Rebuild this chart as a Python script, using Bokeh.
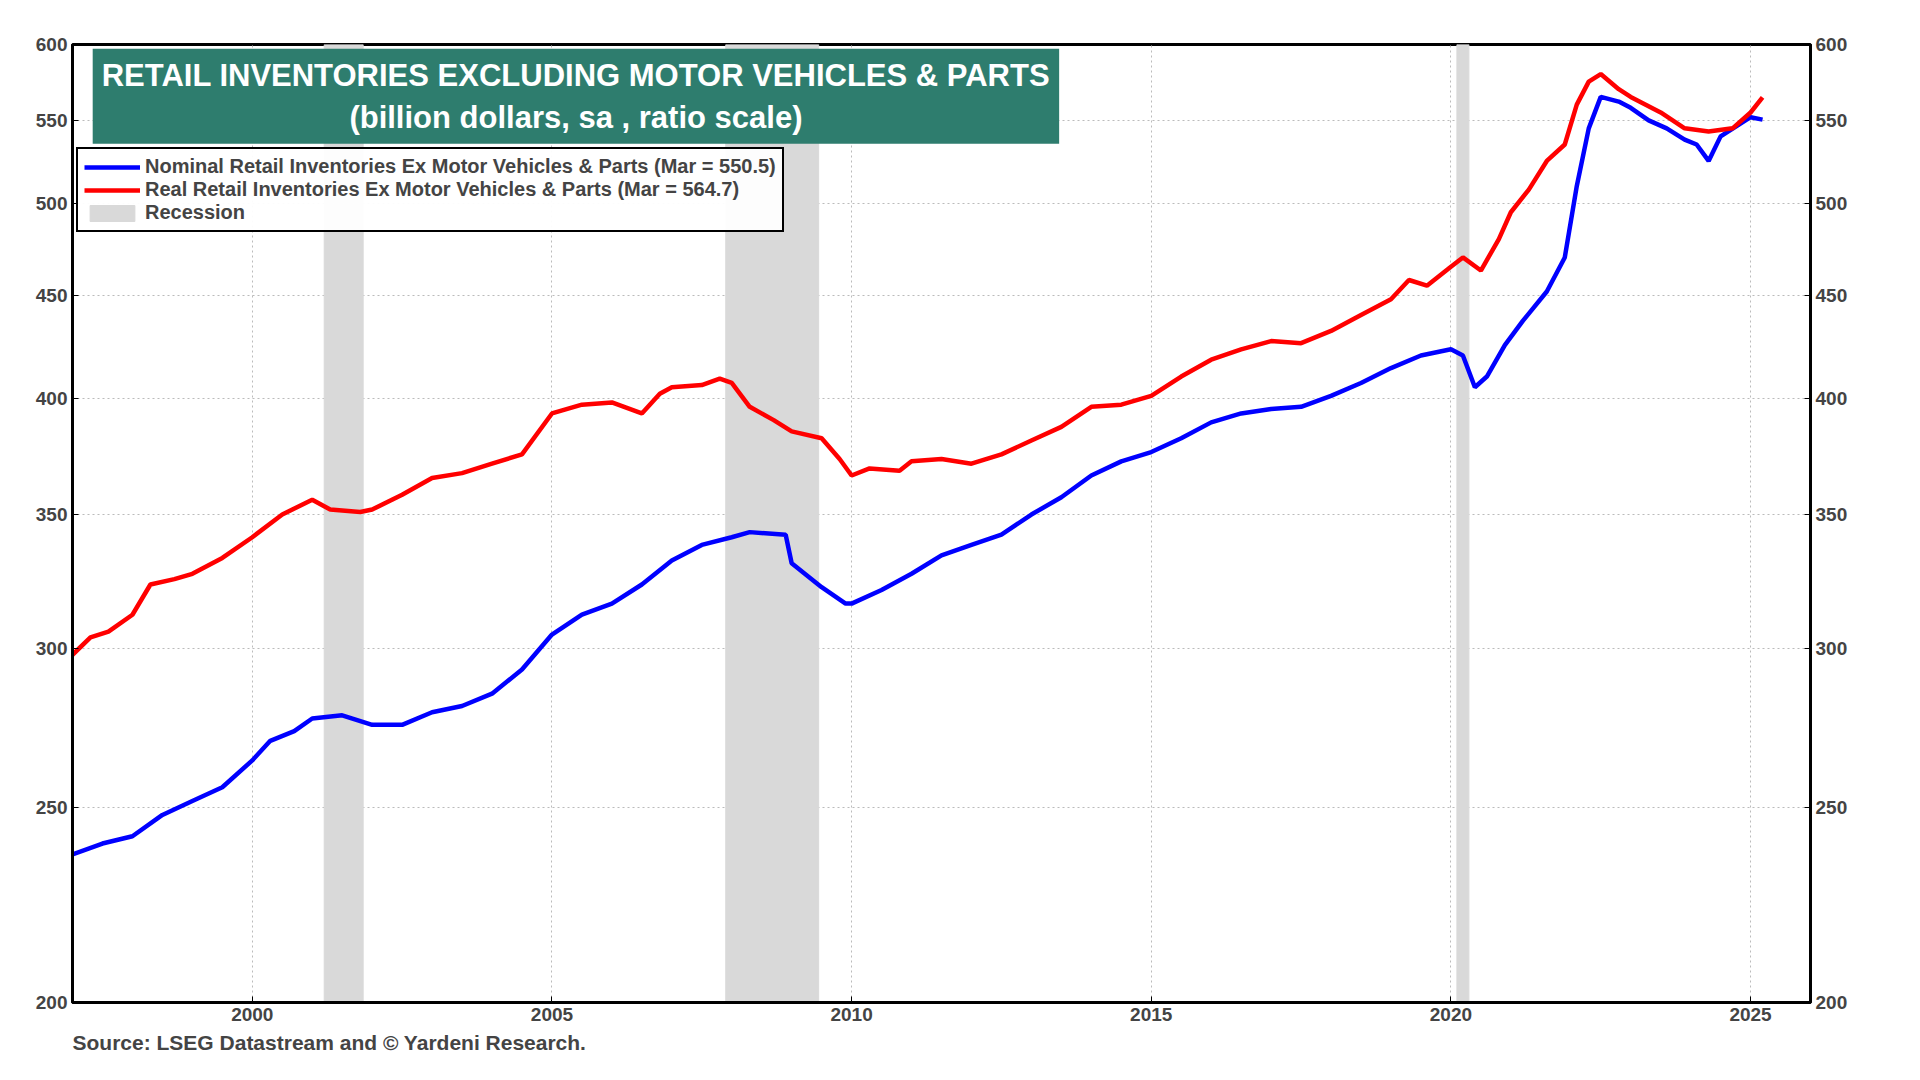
from bokeh.plotting import figure
from bokeh.models import LogAxis, FixedTicker, Label, Title, Range1d
from bokeh.embed import file_html
from bokeh.resources import INLINE

nom_x = [1997.0,1997.5,1998.0,1998.5,1999.0,1999.5,2000.0,2000.3,2000.7,2001.0,2001.5,2002.0,2002.5,2003.0,2003.5,2004.0,2004.5,2005.0,2005.5,2006.0,2006.5,2007.0,2007.5,2008.0,2008.3,2008.9,2009.0,2009.5,2009.9,2010.0,2010.5,2011.0,2011.5,2012.0,2012.5,2013.0,2013.5,2014.0,2014.5,2015.0,2015.5,2016.0,2016.5,2017.0,2017.5,2018.0,2018.5,2019.0,2019.5,2020.0,2020.2,2020.4,2020.6,2020.9,2021.2,2021.6,2021.9,2022.1,2022.3,2022.5,2022.8,2023.0,2023.3,2023.6,2023.9,2024.1,2024.3,2024.5,2025.0,2025.2]
nom_y = [237,240,242,248,252,256,264,270,273,277,278,275,275,279,281,285,293,305,312,316,323,332,338,341,343,342,331,322,316,316,321,327,334,338,342,350,357,366,372,376,382,389,393,395,396,401,407,414,420,423,420,405,410,425,437,452,470,510,545,565,562,558,550,545,538,535,525,540,552,550.5]
real_x = [1997.0,1997.3,1997.6,1998.0,1998.3,1998.7,1999.0,1999.5,2000.0,2000.5,2001.0,2001.3,2001.8,2002.0,2002.5,2003.0,2003.5,2004.0,2004.5,2005.0,2005.5,2006.0,2006.5,2006.8,2007.0,2007.5,2007.8,2008.0,2008.3,2008.7,2009.0,2009.5,2009.8,2010.0,2010.3,2010.8,2011.0,2011.5,2012.0,2012.5,2013.0,2013.5,2014.0,2014.5,2015.0,2015.5,2016.0,2016.5,2017.0,2017.5,2018.0,2018.5,2019.0,2019.3,2019.6,2020.0,2020.2,2020.5,2020.8,2021.0,2021.3,2021.6,2021.9,2022.1,2022.3,2022.5,2022.8,2023.0,2023.5,2023.9,2024.3,2024.7,2025.0,2025.2]
real_y = [298,304,306,312,323,325,327,333,341,350,356,352,351,352,358,365,367,371,375,393,397,398,393,402,405,406,409,407,396,390,385,382,373,366,369,368,372,373,371,375,381,387,396,397,401,410,418,423,427,426,432,440,448,458,455,465,470,463,480,495,508,525,535,560,575,580,570,565,555,545,543,545,555,564.7]
rec_start = [2001.2, 2007.9, 2020.1]
rec_end = [2001.85, 2009.45, 2020.3]
yticks = [200, 250, 300, 350, 400, 450, 500, 550, 600]
xticks = [2000, 2005, 2010, 2015, 2020, 2025]

p = figure(width=1882, height=1058, y_axis_type="log", output_backend="svg", toolbar_location=None,
           x_range=Range1d(1997, 2026), y_range=Range1d(200, 600),
           min_border_left=72, min_border_right=72, min_border_top=44, min_border_bottom=20)
p.quad(left=rec_start, right=rec_end, bottom=200, top=600, color="#d9d9d9", legend_label="Recession")
p.line(nom_x, nom_y, color="#0000ff", line_width=4.5, legend_label="Nominal Retail Inventories Ex Motor Vehicles & Parts (Mar = 550.5)")
p.line(real_x, real_y, color="#ff0000", line_width=4.5, legend_label="Real Retail Inventories Ex Motor Vehicles & Parts (Mar = 564.7)")
items = p.legend[0].items
p.legend[0].items = [items[1], items[2], items[0]]
lg = p.legend[0]
lg.location = (4, 770)
lg.border_line_color = "black"
lg.border_line_alpha = 1.0
lg.border_line_width = 2.5
lg.label_text_font = "Arial"
lg.label_text_font_style = "bold"
lg.label_text_font_size = "20px"
lg.glyph_width = 56
lg.label_height = 22
lg.spacing = 0
lg.padding = 6
lg.margin = 0

p.yaxis.ticker = FixedTicker(ticks=yticks)
p.xaxis.ticker = FixedTicker(ticks=xticks)
ra = LogAxis(ticker=FixedTicker(ticks=yticks))
p.add_layout(ra, "right")
for ax in [p.xaxis[0], p.yaxis[0], ra]:
    ax.major_label_text_font = "Arial"
    ax.major_label_text_font_style = "bold"
    ax.major_label_text_font_size = "19px"
    ax.axis_line_width = 3
    ax.minor_tick_line_color = None
    ax.major_tick_in = 6
    ax.major_tick_out = 0
p.outline_line_color = "black"
p.outline_line_width = 3
p.xgrid.grid_line_dash = "2 3"
p.ygrid.grid_line_dash = "2 3"
p.xgrid.grid_line_color = "#bbbbbb"
p.ygrid.grid_line_color = "#bbbbbb"

p.add_layout(Label(x=2005.4, y=597, text="RETAIL INVENTORIES EXCLUDING MOTOR VEHICLES & PARTS\n(billion dollars, sa , ratio scale)",
                   text_align="center", text_baseline="top", text_color="white", text_font="Arial",
                   text_font_style="bold", text_font_size="31px", background_fill_color="#2e7d6e",
                   padding=9, text_line_height=1.2))
p.add_layout(Title(text="Source: LSEG Datastream and © Yardeni Research.", align="left", text_font="Arial",
                   text_font_style="bold", text_font_size="21px", offset=0), "below")

open("out.html", "w").write(file_html(p, INLINE))
